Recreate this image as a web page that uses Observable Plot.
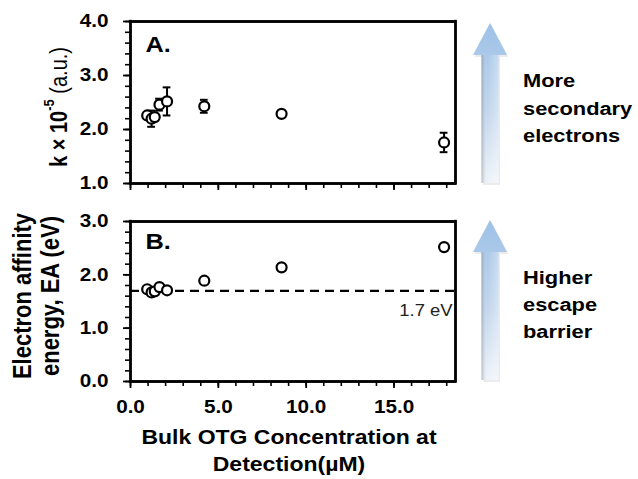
<!DOCTYPE html>
<html><head><meta charset="utf-8">
<script src="https://cdn.jsdelivr.net/npm/d3@7"></script>
<script src="https://cdn.jsdelivr.net/npm/@observablehq/plot@0.6"></script>
<style>
body{margin:0;background:#fff;}
#wrap{position:relative;width:638px;height:479px;overflow:hidden;font-family:"Liberation Sans",Arial,sans-serif;}
#wrap svg{position:absolute;left:0;}
</style></head><body><div id="wrap"></div>
<script>
// ---- data ----
const conc = [0.95, 1.2, 1.38, 1.65, 2.08, 4.2, 8.6, 17.85];          // µM
const kValues = [2.26, 2.2, 2.23, 2.46, 2.52, 2.43, 2.29, 1.76];      // k × 1e-5
const kErrors = [0.04, 0.15, 0.05, 0.11, 0.26, 0.12, 0.03, 0.18];
const eaValues = [1.73, 1.67, 1.69, 1.77, 1.71, 1.89, 2.14, 2.52];    // eV
const eaReference = [1.7];
const xTickLabels = [0, 5, 10, 15];
const kTickLabels = [1, 2, 3, 4];
const eaTickLabels = [0, 1, 2, 3];
const panelLabels = ["A.", "B."];
const refLabel = "1.7 eV";
const sideTextA = ["More", "secondary", "electrons"];
const sideTextB = ["Higher", "escape", "barrier"];
const xTitle = ["Bulk OTG Concentration at", "Detection(\u00b5M)"];
const eaTitle = ["Electron affinity", "energy, EA (eV)"];

const FONT = "Liberation Sans, Arial, Helvetica, sans-serif";
const SX = 1.15; // horizontal stretch of the original figure's text
const wrap = document.getElementById("wrap");
const rows = conc.map((x, i) => ({x, k: kValues[i], e: kErrors[i], ea: eaValues[i]}));
const xDomain = [0, 18.5];
const fmt = d3.format(".1f");
const blank = () => "";

function axesMarks(yDomain, labels) {
  const [yMin, yMax] = yDomain;
  return [
    Plot.axisY(d3.range(yMin, yMax + 0.001, 0.2), {anchor: "left", tickSize: 5, strokeWidth: 1.6, tickFormat: blank, label: null}),
    Plot.axisY(labels, {anchor: "left", tickSize: 7, strokeWidth: 1.8, tickFormat: blank, label: null}),
    Plot.axisY(labels, {anchor: "left", tickSize: 0, tickPadding: 22, tickFormat: fmt, fontSize: 18, fontWeight: "bold", fill: "#000", label: null}),
    Plot.axisX(d3.range(0, 18.01, 1), {anchor: "bottom", tickSize: 5, strokeWidth: 1.6, tickFormat: blank, label: null}),
    Plot.axisX(xTickLabels, {anchor: "bottom", tickSize: 7, strokeWidth: 1.8, tickFormat: blank, label: null}),
    Plot.ruleX(xDomain, {stroke: "#000", strokeWidth: 2.4, strokeLinecap: "square"}),
    Plot.ruleY(yDomain, {stroke: "#000", strokeWidth: 2.4, strokeLinecap: "square"})
  ];
}

const plotA = Plot.plot({
  width: 470, height: 200, marginLeft: 130, marginRight: 15, marginTop: 21, marginBottom: 17,
  style: {fontFamily: FONT, background: "transparent", overflow: "visible", color: "#000"},
  x: {domain: xDomain, axis: null},
  y: {domain: [1, 4], axis: null},
  marks: [
    ...axesMarks([1, 4], kTickLabels),
    Plot.ruleX(rows, {x: "x", y1: d => d.k - d.e, y2: d => d.k + d.e, stroke: "#000", strokeWidth: 2}),
    Plot.ruleY(rows, {y: d => d.k - d.e, x1: d => d.x - 0.22, x2: d => d.x + 0.22, stroke: "#000", strokeWidth: 2}),
    Plot.ruleY(rows, {y: d => d.k + d.e, x1: d => d.x - 0.22, x2: d => d.x + 0.22, stroke: "#000", strokeWidth: 2}),
    Plot.dot(rows, {x: "x", y: "k", r: 5, fill: "#fff", stroke: "#000", strokeWidth: 2.2}),
    Plot.text([panelLabels[0]], {frameAnchor: "top-left", dx: 15, dy: 15, fontSize: 22, fontWeight: "bold", fill: "#000", textAnchor: "start", lineAnchor: "top"})
  ]
});

const plotB = Plot.plot({
  width: 470, height: 279, marginLeft: 130, marginRight: 15, marginTop: 21, marginBottom: 98,
  style: {fontFamily: FONT, background: "transparent", overflow: "visible", color: "#000"},
  x: {domain: xDomain, axis: null},
  y: {domain: [0, 3], axis: null},
  marks: [
    ...axesMarks([0, 3], eaTickLabels),
    Plot.axisX(xTickLabels, {anchor: "bottom", tickSize: 0, tickPadding: 19, tickFormat: fmt, fontSize: 18, fontWeight: "bold", fill: "#000", label: null}),
    Plot.ruleY(eaReference, {stroke: "#000", strokeWidth: 2.4, strokeDasharray: "9,6"}),
    Plot.text(eaReference, {y: d => d, frameAnchor: "right", dx: -3, dy: 20, text: () => refLabel, fontSize: 16, fill: "#222", textAnchor: "end"}),
    Plot.dot(rows, {x: "x", y: "ea", r: 5, fill: "#fff", stroke: "#000", strokeWidth: 2.2}),
    Plot.text([panelLabels[1]], {frameAnchor: "top-left", dx: 15, dy: 12, fontSize: 22, fontWeight: "bold", fill: "#000", textAnchor: "start", lineAnchor: "top"})
  ]
});

plotA.style.top = "0px";
plotB.style.top = "200px";
wrap.appendChild(plotA);
wrap.appendChild(plotB);
// stretch text horizontally like the original figure
for (const p of [plotA, plotB]) {
  d3.select(p).selectAll("text").each(function() {
    const t = this.getAttribute("transform") || "";
    this.setAttribute("transform", t + ` scale(${SX},1)`);
  });
}

// ---- overlay: titles, arrows, and the panel boxes (from the plots' own scales) ----
const svg = d3.select(wrap).append("svg").attr("width", 638).attr("height", 479)
  .style("top", "0px").style("pointer-events", "none").style("font-family", FONT);

function box(plot, top) {
  const sx = plot.scale("x"), sy = plot.scale("y");
  const x0 = sx.apply(sx.domain[0]), x1 = sx.apply(sx.domain[1]);
  const y0 = sy.apply(sy.domain[0]) + top, y1 = sy.apply(sy.domain[1]) + top;
  svg.append("path").attr("d", `M${x0 + 0.5},${y1 + 0.5}H${x1 + 0.5}V${y0 + 0.5}H${x0 + 0.5}Z`)
    .attr("fill", "none").attr("stroke", "#000").attr("stroke-width", 2.4).attr("stroke-linejoin", "miter");
}
box(plotA, 0);
box(plotB, 200);

const defs = svg.append("defs");
const gv = defs.append("linearGradient").attr("id", "gv").attr("x1", 0).attr("y1", 0).attr("x2", 0).attr("y2", 1);
gv.append("stop").attr("offset", "0%").attr("stop-color", "#9dc1e7");
gv.append("stop").attr("offset", "55%").attr("stop-color", "#c2d6ec");
gv.append("stop").attr("offset", "100%").attr("stop-color", "#eef3f9");
const gh = defs.append("linearGradient").attr("id", "gh").attr("x1", 0).attr("y1", 0).attr("x2", 1).attr("y2", 0);
gh.append("stop").attr("offset", "0%").attr("stop-color", "#6d7a8a").attr("stop-opacity", 0.45);
gh.append("stop").attr("offset", "35%").attr("stop-color", "#ffffff").attr("stop-opacity", 0);
gh.append("stop").attr("offset", "100%").attr("stop-color", "#ffffff").attr("stop-opacity", 0.35);

function arrow(top, bottom) {
  const cx = 490, hw = 17, sw = 8.5, hh = 32;
  const pts = [[cx, top], [cx - hw, top + hh], [cx - sw, top + hh], [cx - sw, bottom], [cx + sw, bottom], [cx + sw, top + hh], [cx + hw, top + hh]];
  const d = "M" + pts.map(p => p.join(",")).join("L") + "Z";
  svg.append("path").attr("d", d).attr("fill", "#000").attr("opacity", 0.08).attr("transform", "translate(1.5,2)");
  svg.append("path").attr("d", d).attr("fill", "url(#gv)");
  svg.append("path").attr("d", `M${cx - sw},${top + hh}L${cx - sw},${bottom}L${cx + sw},${bottom}L${cx + sw},${top + hh}Z`).attr("fill", "url(#gh)");
}
arrow(23, 183);
arrow(220, 380);

function lines(arr, x, y0, step) {
  arr.forEach((s, i) => {
    svg.append("text").attr("transform", `translate(${x},${y0 + i * step}) scale(${SX},1)`)
      .attr("font-size", 19).attr("font-weight", "bold").attr("fill", "#000").text(s);
  });
}
lines(sideTextA, 523, 87, 27.5);
lines(sideTextB, 523, 284, 27);

// x title
xTitle.forEach((s, i) => {
  svg.append("text").attr("transform", `translate(289,${444 + i * 27}) scale(${SX},1)`)
    .attr("text-anchor", "middle").attr("font-size", 20).attr("font-weight", "bold").text(s);
});

// y title A
const ta = svg.append("text").attr("transform", `translate(58,107) rotate(-90) scale(1,${SX})`)
  .attr("text-anchor", "middle").attr("dominant-baseline", "central").attr("font-size", 20);
ta.append("tspan").attr("font-weight", "bold").text("k \u00d7 10");
ta.append("tspan").attr("font-weight", "bold").attr("font-size", 13).attr("dy", -8).text("-5");
ta.append("tspan").attr("dy", 8).text(" (a.u.)");

// y title B
eaTitle.forEach((s, i) => {
  svg.append("text").attr("transform", `translate(${22 + i * 28},296) rotate(-90) scale(1,${SX})`)
    .attr("text-anchor", "middle").attr("dominant-baseline", "central")
    .attr("font-size", 22).attr("font-weight", "bold").text(s);
});
</script></body></html>
